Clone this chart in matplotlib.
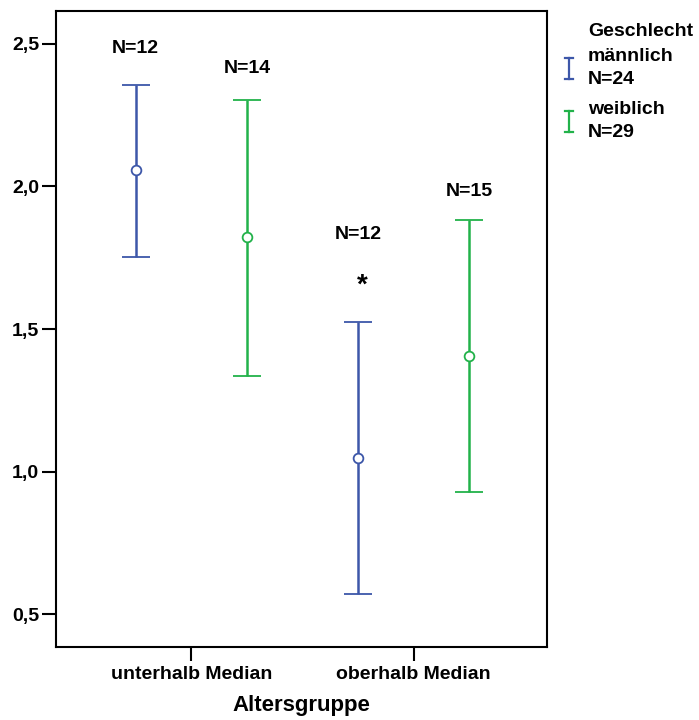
import numpy as np
import matplotlib.pyplot as plt
from matplotlib.lines import Line2D
from matplotlib.ticker import FuncFormatter

plt.rcParams['font.family'] = ['Liberation Sans', 'DejaVu Sans']
plt.rcParams['font.weight'] = 'bold'

# Mittelwerte mit 95%-Konfidenzintervallen je Altersgruppe und Geschlecht
gruppen = ['unterhalb Median', 'oberhalb Median']
maennlich_mw = [2.056, 1.049]
maennlich_unten = [1.752, 0.570]
maennlich_oben = [2.357, 1.524]
maennlich_n = [12, 12]
weiblich_mw = [1.822, 1.406]
weiblich_unten = [1.336, 0.927]
weiblich_oben = [2.304, 1.881]
weiblich_n = [14, 15]
n_gesamt = {'männlich': 24, 'weiblich': 29}

blau = '#3d57a9'
gruen = '#22b24a'

fig = plt.figure(figsize=(6.99, 7.2), dpi=100)
ax = fig.add_axes([0.080, 0.1014, 0.7025, 0.8833])

x = np.arange(len(gruppen))
versatz = 0.25

def zeichne(pos, mw, lo, hi, farbe):
    mw = np.array(mw)
    yerr = [mw - np.array(lo), np.array(hi) - mw]
    ax.errorbar(pos, mw, yerr=yerr, fmt='o', color=farbe, mfc='white',
                mec=farbe, ms=7, mew=1.3, elinewidth=1.8, capsize=10,
                capthick=1.8)

zeichne(x - versatz, maennlich_mw, maennlich_unten, maennlich_oben, blau)
zeichne(x + versatz, weiblich_mw, weiblich_unten, weiblich_oben, gruen)

# N-Beschriftungen über den Fehlerbalken (Abstand in Pixel)
abst_m = [36, 88]
abst_w = [31, 29]
for i in range(len(gruppen)):
    ax.annotate(f'N={maennlich_n[i]}', (x[i] - versatz, maennlich_oben[i]),
                xytext=(0, abst_m[i] * 0.72), textcoords='offset points',
                ha='center', va='center', fontsize=14, fontweight='bold')
    ax.annotate(f'N={weiblich_n[i]}', (x[i] + versatz, weiblich_oben[i]),
                xytext=(0, abst_w[i] * 0.72), textcoords='offset points',
                ha='center', va='center', fontsize=14, fontweight='bold')

# Stern bei der zweiten Gruppe
ax.annotate('*', (x[1] - versatz, maennlich_oben[1]), xytext=(3, 26),
            textcoords='offset points', ha='center', va='center',
            fontsize=20, fontweight='bold')

ax.set_xlim(-0.608, 1.599)
ax.set_ylim(0.385, 2.615)
ax.set_xticks(x)
ax.set_xticklabels(gruppen)
ax.set_yticks([0.5, 1.0, 1.5, 2.0, 2.5])
ax.yaxis.set_major_formatter(FuncFormatter(lambda v, p: f'{v:.1f}'.replace('.', ',')))
ax.tick_params(axis='both', direction='out', length=10, width=1.5,
               labelsize=14, pad=2)
ax.tick_params(axis='x', pad=4)
for t in ax.get_xticklabels() + ax.get_yticklabels():
    t.set_fontweight('bold')
for s in ax.spines.values():
    s.set_linewidth(1.5)
ax.set_xlabel('Altersgruppe', fontsize=16, fontweight='bold', labelpad=8)

# Legende rechts neben dem Diagramm
fig.text(588 / 699, 1 - 31 / 720, 'Geschlecht', fontsize=14, fontweight='bold',
         va='center', ha='left')
legende = [('männlich', blau, 68), ('weiblich', gruen, 121)]
for name, farbe, ypx in legende:
    y0 = 1 - (ypx - 10.5) / 720
    y1 = 1 - (ypx + 10.5) / 720
    xm = 569 / 699
    dx = 4 / 699
    fig.add_artist(Line2D([xm, xm], [y0, y1], color=farbe, lw=1.6))
    fig.add_artist(Line2D([xm - dx, xm + dx], [y0, y0], color=farbe, lw=1.6))
    fig.add_artist(Line2D([xm - dx, xm + dx], [y1, y1], color=farbe, lw=1.6))
    fig.text(588 / 699, 1 - ypx / 720, f'{name}\nN={n_gesamt[name]}',
             fontsize=14, fontweight='bold', va='center', ha='left',
             linespacing=1.45)

fig.savefig('out.png', dpi=100)
